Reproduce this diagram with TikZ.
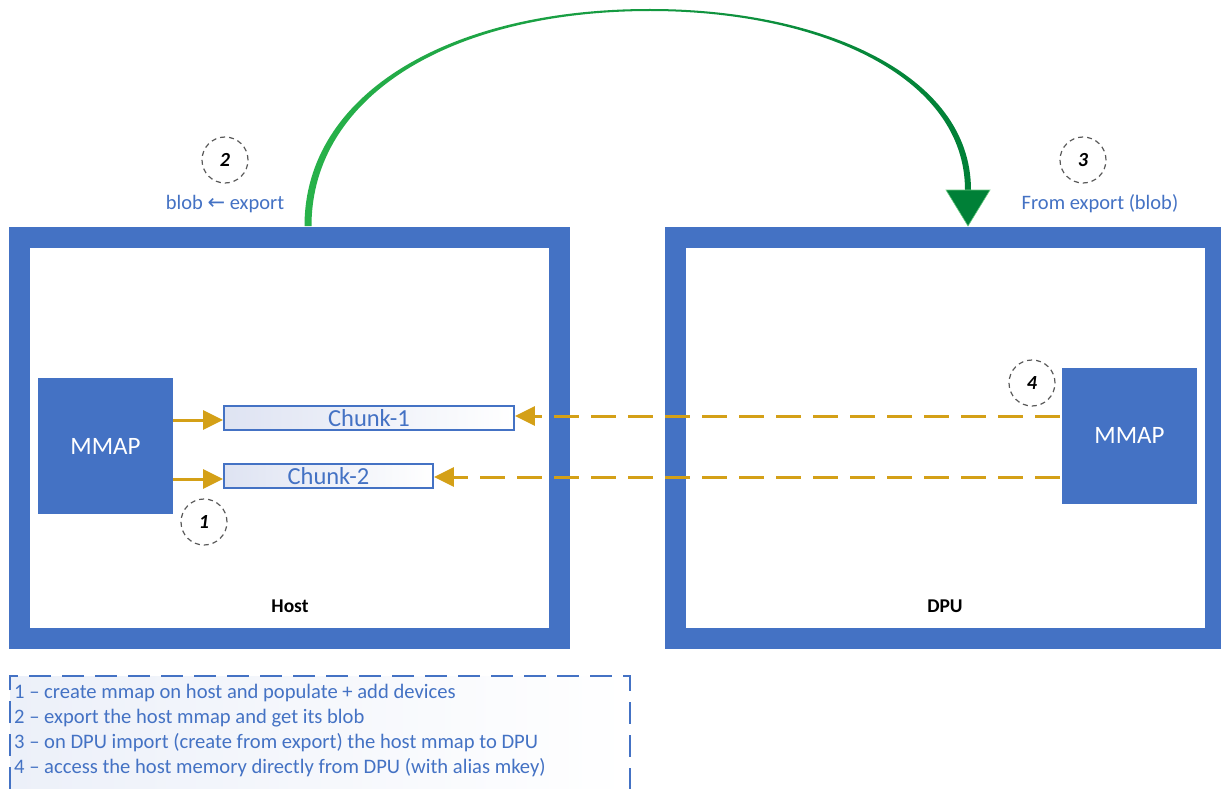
\documentclass[tikz,border=0pt]{standalone}
\usepackage{fontspec}
\setmainfont{Carlito}
\newfontfamily\dejavu{DejaVu Sans}
\usetikzlibrary{arrows.meta,calc}
\definecolor{ublue}{RGB}{68,114,196}
\definecolor{gold}{RGB}{212,160,23}
\definecolor{lgreen}{RGB}{40,178,74}
\definecolor{dgreen}{RGB}{0,128,55}
\definecolor{cgray}{RGB}{90,90,90}
\definecolor{lav}{RGB}{222,227,242}
\definecolor{lav2}{RGB}{236,240,249}
\begin{document}
\begin{tikzpicture}[x=1pt,y=-1pt,
  framebox/.style={draw=ublue, line width=21pt, inner sep=0, minimum width=540pt, minimum height=401.5pt},
  mmapbox/.style={fill=ublue, text=white, minimum width=135pt, minimum height=136pt, inner sep=0, font=\fontsize{25}{30}\selectfont},
  chunkbox/.style={draw=ublue, line width=1.8pt, left color=lav, right color=white, minimum height=24pt, inner sep=0, text=ublue, font=\fontsize{24.5}{28}\selectfont},
  stepnum/.style={circle, draw=cgray, dash pattern=on 5pt off 4pt, line width=1.2pt, minimum size=46pt, inner sep=0, font=\fontsize{20}{22}\selectfont\bfseries\itshape},
  bluelabel/.style={text=ublue, font=\fontsize{20.5}{24}\selectfont, inner sep=0},
  boxlabel/.style={font=\fontsize{19.5}{22}\selectfont\bfseries, inner sep=0},
  legendline/.style={text=ublue, font=\fontsize{20.6}{24}\selectfont, inner sep=0, anchor=base west},
  solidarrow/.style={draw=gold, line width=3pt, -{Triangle[length=20pt,width=19pt]}},
  dasharrow/.style={solidarrow, dash pattern=on 25pt off 12pt},
]
\useasboundingbox (0,0) rectangle (1221,789);
\fill[white] (0,0) rectangle (1221,789);

% frames
\node[framebox] (host) at (289.75,437.75) {};
\node[framebox] (dpu) at (945.5,437.75) {};
\node[boxlabel] (hostlbl) at (290,606) {Host};
\node[boxlabel] (dpulbl) at (945,606) {DPU};

% mmap boxes
\node[mmapbox] (mmapH) at (105.5,446) {MMAP};
\node[mmapbox] (mmapD) at (1129.5,435.5) {MMAP};

% chunks
\node[chunkbox, minimum width=290pt] (c1) at (369,418) {Chunk-1};
\node[chunkbox, minimum width=209pt] (c2) at (328.5,476) {Chunk-2};

% orange arrows
\draw[solidarrow] (mmapH.east |- 0,420) -- (c1.west |- 0,420);
\draw[solidarrow] (mmapH.east |- 0,479) -- (c2.west |- 0,479);
\draw[dasharrow] ($(mmapD.west |- c1.east)+(-2,-2)$) -- ($(c1.east)+(0,-2)$);
\draw[dasharrow] ($(mmapD.west |- c2.east)+(-2,1)$) -- ($(c2.east)+(0,1)$);

% step circles
\node[stepnum] (s1) at (204,522) {1};
\node[stepnum] (s2) at (225,160) {2};
\node[stepnum] (s3) at (1083,160) {3};
\node[stepnum] (s4) at (1032,383) {4};

\node[bluelabel] (lblexp) at (225,204) {blob {\dejavu\fontsize{21}{22}\selectfont ←} export};
\node[bluelabel] (lblfrom) at (1100,204) {From export (blob)};

% green arrow
\coordinate (gs) at (308,226);
\coordinate (ge) at (968,226);
\shade[left color=lgreen, right color=dgreen]
  (304.5,226) .. controls (304.5,94) and (449,8.8) .. (650,9)
  .. controls (821,9) and (971,74) .. (971,190)
  -- (965,190) .. controls (965,76) and (819,11) .. (650,11)
  .. controls (451,11.2) and (311.5,96) .. (311.5,226) -- cycle;
\fill[dgreen, draw=lgreen!70, line width=0.6pt] (946,190) -- (990,190) -- (ge) -- cycle;

% legend
\shade[left color=lav2, right color=white] (10,676) rectangle (630,789);
\draw[ublue, line width=1.6pt, dash pattern=on 22pt off 11pt] (10,789) -- (10,676) -- (630,676) -- (630,789);
\node[legendline] (l1) at (14,698) {1 – create mmap on host and populate + add devices};
\node[legendline] (l2) at (14,723) {2 – export the host mmap and get its blob};
\node[legendline] (l3) at (14,748) {3 – on DPU import (create from export) the host mmap to DPU};
\node[legendline] (l4) at (14,773) {4 – access the host memory directly from DPU (with alias mkey)};
\end{tikzpicture}
\end{document}
